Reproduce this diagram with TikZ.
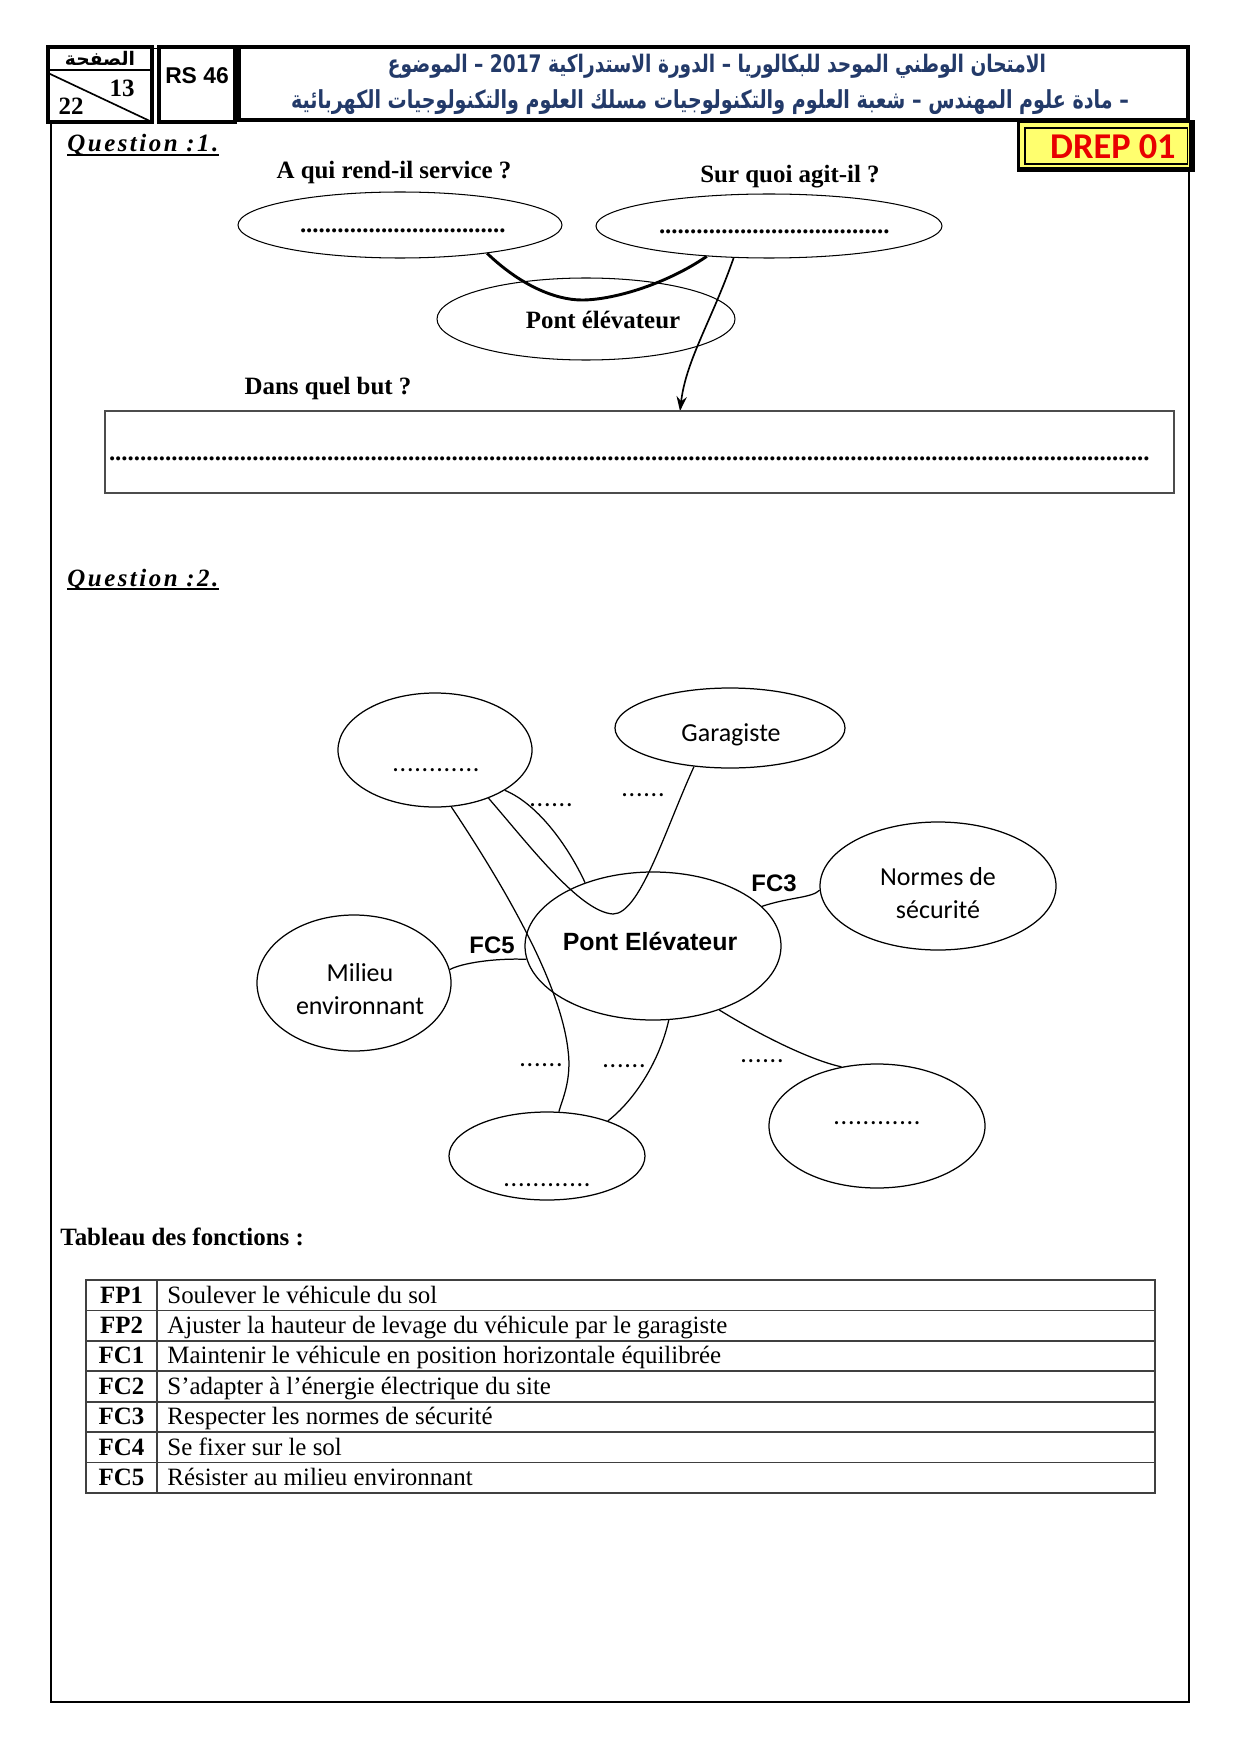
\documentclass[tikz,border=0pt]{standalone}
\usepackage{fontspec}
\usepackage{graphicx}
\usepackage{xcolor}
\usetikzlibrary{shapes.geometric, arrows.meta}
\setmainfont{Liberation Serif}
\newfontfamily\arial{Liberation Sans}
\newfontfamily\calibri{Carlito}
\newfontfamily\arabe[Script=Arabic]{DejaVu Sans}
\TeXXeTstate=1
\definecolor{bleutitre}{RGB}{35,58,105}
\definecolor{rougedrep}{RGB}{232,0,0}
\definecolor{jaunedrep}{RGB}{255,255,110}
\newlength{\upx}
\setlength{\upx}{0.016922cm}
\newcommand{\lignepts}[1]{\hbox to #1{\leaders\hbox to 3pt{\hss.\hss}\hfill}}

\begin{document}
\begin{tikzpicture}[x=\upx, y=-\upx,
		bulle/.style={draw, ellipse, inner sep=0pt, line width=0.6pt},
		cadre/.style={draw, line width=1.5pt},
		trait/.style={line width=0.6pt},
		titreQ/.style={anchor=base west, inner sep=0pt, font=\fontsize{12}{14}\selectfont\bfseries\itshape\addfontfeature{LetterSpace=10}},
		gras/.style={font=\fontsize{12}{14}\selectfont\bfseries},
		calib/.style={font=\fontsize{12.5}{16}\selectfont\calibri, align=center},
		fcx/.style={font=\fontsize{11.5}{13}\selectfont\arial\bfseries},
		pts/.style={inner sep=0pt, font=\fontsize{12.5}{14}\selectfont\calibri\addfontfeature{LetterSpace=3}}]

			\def\hLigne{30.43};

			\useasboundingbox (0,0) rectangle (1241,1755);

			\begin{scope}
				\draw[line width=0.4pt] (48,48) -- (1188,48);
				\draw[cadre] (48,47) rectangle (152,122);
				\draw[line width=1.3pt] (48,70) -- (152,70);
				\draw[line width=0.8pt] (48,73) -- (152,122);
				\node[font=\fontsize{9}{10}\selectfont\arabe\bfseries] (page) at (100,58) {\beginR الصفحة\endR};
				\node[font=\fontsize{12}{14}\selectfont\bfseries] (num) at (122,88) {13};
				\node[font=\fontsize{12}{14}\selectfont\bfseries] (tot) at (71,106) {22};

				\draw[cadre] (159,47) rectangle (235,122);
				\node[font=\fontsize{11}{13}\selectfont\arial\bfseries] (rs) at (197,76) {RS 46};

				\draw[cadre] (239,47) rectangle (1188,120);
				\node[text=bleutitre, font=\arabe\bfseries, inner sep=0pt] (titre1) at (717,66)
					{\resizebox{658\upx}{!}{\scalebox{1}[1.3]{\beginR الامتحان الوطني الموحد للبكالوريا – الدورة الاستدراكية 2017 – الموضوع\endR}}};
				\node[text=bleutitre, font=\arabe\bfseries, inner sep=0pt] (titre2) at (710,102)
					{\resizebox{838\upx}{!}{\scalebox{1}[1.3]{\beginR – مادة علوم المهندس – شعبة العلوم والتكنولوجيات مسلك العلوم والتكنولوجيات الكهربائية\endR}}};
			\end{scope}

			\begin{scope}
				\fill (1017,120) rectangle (1195,172);
				\fill[jaunedrep] (1020,123) rectangle (1189,167);
				\draw[line width=0.5pt] (1025,128) rectangle (1187,164);
				\node[text=rougedrep, font=\fontsize{17.5}{18}\selectfont\calibri\bfseries, anchor=east] (drep) at (1183,147) {DREP 01};
			\end{scope}

			\draw[line width=0.8pt] (51,122) -- (51,1702) -- (1189,1702) -- (1189,172);

			\begin{scope}
				\node[titreQ] (q1) at (67,152) {Question :1.};
				\draw[line width=0.7pt] ([yshift=-3\upx]q1.base west) -- ([yshift=-3\upx]q1.base east);
				\node[gras] (serv-q) at (394,173) {A qui rend-il service ?};
				\node[gras] (sur-q) at (790,177) {Sur quoi agit-il ?};

				\node[bulle, line width=0.5pt, minimum width=324\upx, minimum height=66\upx] (serv) at (400,225) {};
				\node[gras, inner sep=0pt] (serv-t) at (404,231) {\lignepts{208\upx}};
				\node[bulle, line width=0.5pt, minimum width=346\upx, minimum height=64\upx] (sur) at (769,226) {};
				\node[gras, inner sep=0pt] (sur-t) at (775,232) {\lignepts{232\upx}};
				\node[bulle, line width=0.5pt, minimum width=298\upx, minimum height=82\upx] (pont1) at (586,319) {};
				\node[gras] (pont1-t) at (603,320) {Pont élévateur};

				\coordinate (fond) at (582,300);
				\coordinate (fleche) at (680,411);
				\draw[line width=1.4pt] (serv.-18) .. controls (520,285) and (555,300) .. (fond) .. controls (612,300) and (665,285) .. (sur.-154);
				\draw[-{Stealth[length=7pt, width=5pt]}, line width=0.8pt] (sur.-138) .. controls (712,320) and (686,360) .. (fleche);

				\node[gras] (but-q) at (328,389) {Dans quel but ?};
				\node[draw=black!70, line width=0.6pt, inner sep=0pt, minimum width=1069\upx, minimum height=82\upx] (but) at (639.5,452) {};
				\node[gras, inner sep=0pt] (but-t) at (632,459) {\lignepts{1046\upx}};
			\end{scope}

			\begin{scope}
				\node[titreQ] (q2) at (67,586) {Question :2.};
				\draw[line width=0.7pt] ([yshift=-3\upx]q2.base west) -- ([yshift=-3\upx]q2.base east);

				\node[bulle, minimum width=194\upx, minimum height=114\upx] (elt1) at (435,750) {};
				\node[pts] (elt1-t) at (436,770) {............};
				\node[bulle, minimum width=230\upx, minimum height=80\upx] (garag) at (730,728) {};
				\node[calib] (garag-t) at (731,735) {Garagiste};
				\node[bulle, minimum width=236\upx, minimum height=128\upx] (normes) at (938,886) {};
				\node[calib] (normes-t) at (938,893) {Normes de\\sécurité};
				\node[bulle, minimum width=256\upx, minimum height=148\upx] (pont) at (653,946) {};
				\node[font=\fontsize{12}{14}\selectfont\arial\bfseries] (pont-t) at (650,941) {Pont Elévateur};
				\node[bulle, minimum width=194\upx, minimum height=136\upx] (milieu) at (354,983) {};
				\node[calib] (milieu-t) at (360,989) {Milieu\\environnant};
				\node[bulle, minimum width=196\upx, minimum height=88\upx] (elt2) at (547,1156) {};
				\node[pts] (elt2-t) at (547,1185) {............};
				\node[bulle, minimum width=216\upx, minimum height=124\upx] (elt3) at (877,1126) {};
				\node[pts] (elt3-t) at (877,1123) {............};

				\coordinate (creux) at (613,914);
				\coordinate (coude) at (568,1050);
				\draw[trait] (elt1.-30) .. controls (540,805) and (570,850) .. (pont.137);
				\draw[trait] (elt1.-42) .. controls (530,846) and (580,912) .. (creux) .. controls (640,914) and (665,830) .. (garag.-133);
				\draw[trait] (elt1.-74) .. controls (500,880) and (560,980) .. (coude) .. controls (572,1080) and (562,1100) .. (elt2.75);
				\draw[trait] (pont.-78) .. controls (660,1060) and (635,1100) .. (elt2.30);
				\draw[trait] (pont.-44) .. controls (760,1035) and (810,1060) .. (elt3.121);
				\draw[trait] (milieu.8) .. controls (462,963) and (495,958) .. (pont.-174);
				\draw[trait] (pont.20) .. controls (790,897) and (812,898) .. (normes.182);

				\node[fcx] (fc5) at (492,945) {FC5};
				\node[fcx] (fc3) at (774,883) {FC3};
				\node[pts] (d1) at (551,805) {......};
				\node[pts] (d2) at (643,795) {......};
				\node[pts] (d3) at (541,1065) {......};
				\node[pts] (d4) at (624,1066) {......};
				\node[pts] (d5) at (762,1061) {......};
			\end{scope}

			\begin{scope}
				\node[gras, anchor=base west, inner sep=0pt] (tab-q) at (60,1245) {Tableau des fonctions :};
				\draw[black!75, line width=0.8pt] (86,1280) rectangle (1155,1493);
				\foreach \i in {1,...,6}
				{
					\draw[black!75, line width=0.8pt] (86,{1280+\i*\hLigne}) -- (1155,{1280+\i*\hLigne});
				}
				\draw[black!75, line width=0.8pt] (157,1280) -- (157,1493);
				\foreach \lab/\txt [count=\i] in {FP1/Soulever le véhicule du sol,
						FP2/Ajuster la hauteur de levage du véhicule par le garagiste,
						FC1/Maintenir le véhicule en position horizontale équilibrée,
						FC2/S’adapter à l’énergie électrique du site,
						FC3/Respecter les normes de sécurité,
						FC4/Se fixer sur le sol,
						FC5/Résister au milieu environnant}
				{
					\node[gras, anchor=base, inner sep=0pt] (lab\i) at (121.5,{1280+(\i-1)*\hLigne+23}) {\lab};
					\node[font=\fontsize{12}{14}\selectfont, anchor=base west, inner sep=0pt] (fct\i) at (167,{1280+(\i-1)*\hLigne+23}) {\txt};
				}
			\end{scope}
		\end{tikzpicture}
\end{document}
